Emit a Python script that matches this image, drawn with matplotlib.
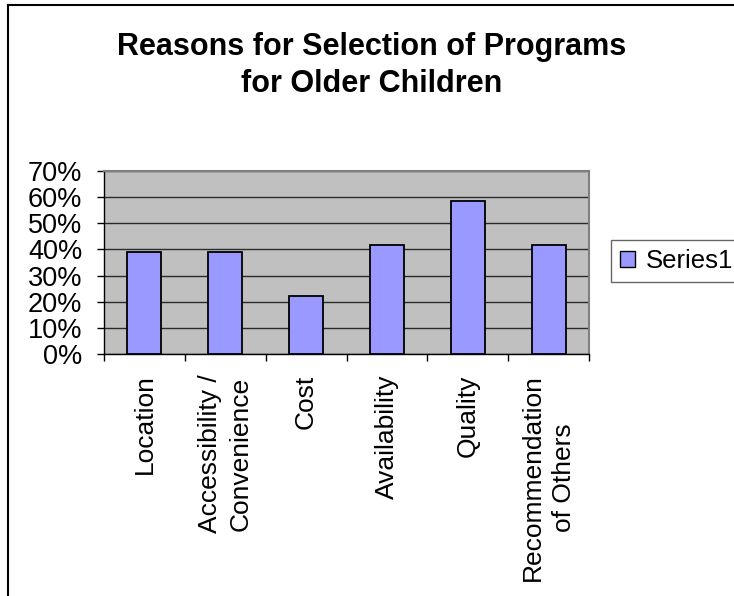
import matplotlib
matplotlib.use('Agg')
import matplotlib.pyplot as plt
from matplotlib.lines import Line2D
from matplotlib.ticker import PercentFormatter

categories = ["Location", "Accessibility /\nConvenience", "Cost", "Availability",
              "Quality", "Recommendation\nof Others"]
values = [0.389, 0.389, 0.222, 0.417, 0.583, 0.417]
series_name = "Series1"
title_lines = ["Reasons for Selection of Programs", "for Older Children"]
yticks = [0.0, 0.1, 0.2, 0.3, 0.4, 0.5, 0.6, 0.7]

plt.rcParams['font.family'] = ['Liberation Sans', 'DejaVu Sans']

W, H = 734, 596
fig = plt.figure(figsize=(W / 100, H / 100), dpi=100)
fig.patch.set_facecolor('white')

# axes placement in pixels
left, right, top, bottom = 104, 589, 170.7, 354.3
ax = fig.add_axes([left / W, 1 - bottom / H, (right - left) / W, (bottom - top) / H])
ax.set_facecolor('#C0C0C0')

x = list(range(len(categories)))
ax.bar(x, values, width=0.42, color='#9999FF', edgecolor='black',
       linewidth=1.3, label=series_name, zorder=3)

ax.set_xlim(-0.5, len(categories) - 0.5)
ax.set_ylim(0, 0.7)
ax.set_yticks(yticks)
ax.yaxis.set_major_formatter(PercentFormatter(1.0, decimals=0))
ax.grid(axis='y', color='#2a2a2a', linewidth=1.0)
ax.set_axisbelow(True)

# ticks at category boundaries, labels at centres
ax.set_xticks([i - 0.5 for i in range(len(categories) + 1)])
ax.set_xticklabels([])
ax.set_xticks(x, minor=True)
ax.set_xticklabels(categories, minor=True, rotation=90, va='top', ha='center',
                   multialignment='center', fontsize=19, linespacing=1.35)
ax.tick_params(axis='x', which='minor', length=0, pad=14.5)
ax.tick_params(axis='x', which='major', length=5, width=1, direction='out', color='black')
ax.tick_params(axis='y', length=5, width=1, direction='out', color='black',
               labelsize=19.5, pad=10.5)

for s in ['left', 'bottom']:
    ax.spines[s].set_color('black')
    ax.spines[s].set_linewidth(1.0)
for s in ['top', 'right']:
    ax.spines[s].set_color('#808080')
    ax.spines[s].set_linewidth(1.5)

# title
fig.text(372 / W, 1 - 55 / H, title_lines[0], ha='center', va='baseline',
         fontsize=22, fontweight='bold')
fig.text(372 / W, 1 - 92 / H, title_lines[1], ha='center', va='baseline',
         fontsize=22, fontweight='bold')

# legend
leg = ax.legend(loc='upper left', bbox_to_anchor=(610.7 / W, 1 - 240 / H),
                bbox_transform=fig.transFigure, frameon=True, fancybox=False,
                edgecolor='#404040', borderaxespad=0, fontsize=18.5,
                handlelength=0.6, handleheight=0.6, handletextpad=0.4,
                borderpad=0.35)
leg.get_frame().set_linewidth(1.0)
for h in leg.legend_handles:
    h.set_linewidth(1.0)

# chart border (partially visible)
fig.add_artist(Line2D([8 / W, 1.0], [1 - 5 / H, 1 - 5 / H], transform=fig.transFigure,
                      color='black', linewidth=1.5))
fig.add_artist(Line2D([8 / W, 8 / W], [1 - 5 / H, 0.0], transform=fig.transFigure,
                      color='black', linewidth=1.5))

fig.savefig('out.png', dpi=100)
